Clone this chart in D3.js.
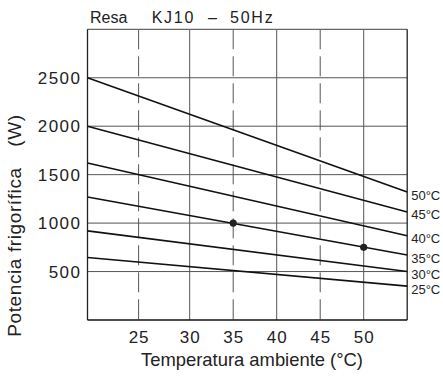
<!DOCTYPE html>
<html>
<head>
<meta charset="utf-8">
<script src="https://cdn.jsdelivr.net/npm/d3@7"></script>
<style>
  html, body { margin: 0; padding: 0; background: #fff; }
  svg { display: block; }
  text { font-family: "Liberation Sans", Arial, sans-serif; fill: #222; }
</style>
</head>
<body>
<svg id="chart" width="443" height="379"></svg>
<script>
// Capacity curves: one straight line per evaporating temperature,
// given by its value at the left (20 °C) and right (55 °C) edges.
const curveLabels = ["50°C", "45°C", "40°C", "35°C", "30°C", "25°C"];
const startValues = [2500, 2000, 1620, 1270, 920, 645];
const endValues   = [1320, 1115, 870, 670, 500, 350];
const xStart = 20, xEnd = 55;

// Marked operating points (on the 35°C curve)
const pointTemps  = [35, 50];
const pointValues = [1000, 750];

// Axis ticks
const xTicks = [25, 30, 35, 40, 45, 50];
const xDashed = [25, 35, 45];
const yTicks = [500, 1000, 1500, 2000, 2500];

const svg = d3.select("#chart");

// The printed temperature axis is not evenly spaced below 30 °C
const x = d3.scaleLinear().domain([20, 30, 55]).range([87.5, 189.7, 407.2]);
const y = d3.scaleLinear().domain([0, 3000]).range([320, 29.3]);

const [x0, x1] = [x(20), x(55)];
const [yb, yt] = [y(0), y(3000)];

// Horizontal grid
svg.append("g").selectAll("line").data(yTicks).join("line")
  .attr("x1", x0).attr("x2", x1)
  .attr("y1", d => y(d)).attr("y2", d => y(d))
  .attr("stroke", "#555").attr("stroke-width", 1);

// Vertical grid: solid every 10 °C, dashed in between
svg.append("g").selectAll("line").data(xTicks).join("line")
  .attr("x1", d => x(d)).attr("x2", d => x(d))
  .attr("y1", yt).attr("y2", yb)
  .attr("stroke", "#555").attr("stroke-width", 1)
  .attr("stroke-dasharray", d => xDashed.includes(d) ? "20,7" : null);

// Frame
svg.append("line").attr("x1", x0).attr("x2", x1).attr("y1", yt).attr("y2", yt)
  .attr("stroke", "#666").attr("stroke-width", 1.3);
svg.append("line").attr("x1", x0).attr("x2", x0).attr("y1", yt).attr("y2", yb)
  .attr("stroke", "#222").attr("stroke-width", 1.3);
svg.append("line").attr("x1", x1).attr("x2", x1).attr("y1", yt).attr("y2", yb)
  .attr("stroke", "#222").attr("stroke-width", 1.3);
svg.append("line").attr("x1", x0).attr("x2", x1).attr("y1", yb).attr("y2", yb)
  .attr("stroke", "#111").attr("stroke-width", 1.6);

// Curves
const curves = curveLabels.map((label, i) => ({
  label,
  pts: [[xStart, startValues[i]], [xEnd, endValues[i]]]
}));
const line = d3.line().x(d => x(d[0])).y(d => y(d[1]));
svg.append("g").selectAll("path").data(curves).join("path")
  .attr("d", d => line(d.pts))
  .attr("fill", "none").attr("stroke", "#111").attr("stroke-width", 1.6);

// Curve labels at the right edge
svg.append("g").selectAll("text").data(curves).join("text")
  .attr("x", x1 + 4)
  .attr("y", d => y(d.pts[1][1]) + 7.5)
  .attr("font-size", 13)
  .text(d => d.label);

// Operating points
svg.append("g").selectAll("circle").data(pointTemps).join("circle")
  .attr("cx", d => x(d)).attr("cy", (d, i) => y(pointValues[i]))
  .attr("r", 3.6).attr("fill", "#222");

// Y tick labels
svg.append("g").selectAll("text").data(yTicks).join("text")
  .attr("x", 81.5).attr("y", d => y(d) + 6)
  .attr("text-anchor", "end")
  .attr("font-size", 17).attr("letter-spacing", 1.5)
  .text(d => d);

// X tick labels
svg.append("g").selectAll("text").data(xTicks).join("text")
  .attr("x", d => x(d) + 0.5).attr("y", 342.7)
  .attr("text-anchor", "middle")
  .attr("font-size", 17).attr("letter-spacing", 1)
  .text(d => d);

// X axis title
svg.append("text")
  .attr("x", 141).attr("y", 366)
  .attr("font-size", 18.4)
  .text("Temperatura ambiente (°C)");

// Y axis title
const yTitle = svg.append("text")
  .attr("transform", "translate(21,336.7) rotate(-90)")
  .attr("font-size", 19).attr("letter-spacing", 0.6);
yTitle.append("tspan").attr("x", 0).text("Potencia frigorífica");
yTitle.append("tspan").attr("x", 190).text("(W)");

// Header
const header = svg.append("text").attr("y", 23.3).attr("font-size", 16);
header.append("tspan").attr("x", 90).text("Resa");
header.append("tspan").attr("x", 151.7).attr("textLength", 41.6).text("KJ10");
header.append("tspan").attr("x", 208).text("–");
header.append("tspan").attr("x", 230).attr("textLength", 42.7).text("50Hz");
</script>
</body>
</html>
